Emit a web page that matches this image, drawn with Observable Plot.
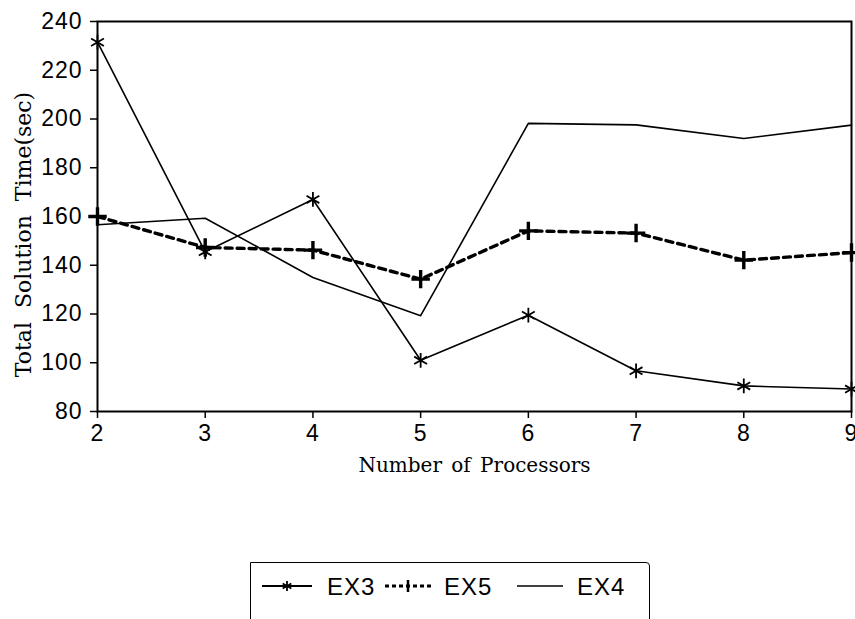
<!DOCTYPE html>
<html>
<head>
<meta charset="utf-8">
<script src="https://cdn.jsdelivr.net/npm/d3@7"></script>
<script src="https://cdn.jsdelivr.net/npm/@observablehq/plot@0.6"></script>
<style>
  html, body { margin: 0; padding: 0; background: #fff; }
  #wrap { position: relative; width: 855px; height: 619px; overflow: hidden; background: #fff; }
  #wrap svg.plot { position: absolute; left: 0; top: 0; }
  g[aria-label="x-axis tick label"] text, g[aria-label="y-axis tick label"] text {
    font-family: "Liberation Sans", Arial, sans-serif; font-size: 23px; letter-spacing: 1px; fill: #000;
  }
  g[aria-label="x-axis label"] text {
    font-family: "DejaVu Serif", serif; font-size: 20px; fill: #000; word-spacing: 3px;
  }
  g.ylab text {
    font-family: "DejaVu Serif", serif; font-size: 22px; fill: #000; word-spacing: 7px;
  }
  #legend {
    position: absolute; left: 250px; top: 562px; width: 400px; height: 80px;
    border: 1.5px solid #000; border-top-right-radius: 4px; box-sizing: border-box;
  }
  #legend text { font-family: "Liberation Sans", Arial, sans-serif; font-size: 24px; letter-spacing: 1px; fill: #000; }
</style>
</head>
<body>
<div id="wrap"></div>
<script>
// Data
const processors = [2, 3, 4, 5, 6, 7, 8, 9];
const ex3 = [231.5, 145.5, 167, 101, 119.5, 96.7, 90.5, 89.2];
const ex5 = [160, 147.3, 146.2, 134.3, 154.1, 153.2, 142.1, 145.2];
const ex4 = [156.6, 159.3, 135, 119.3, 198.2, 197.6, 192, 197.5];
const yTicks = [80, 100, 120, 140, 160, 180, 200, 220, 240];
const seriesNames = ["EX3", "EX5", "EX4"];
const xLabel = "Number of Processors";
const yLabel = "Total Solution Time(sec)";

const rows = (vals, name) => processors.map((p, i) => ({series: name, x: p, y: vals[i]}));
const d3rows = rows(ex3, "EX3");
const d5rows = rows(ex5, "EX5");
const d4rows = rows(ex4, "EX4");

const chart = Plot.plot({
  width: 855,
  height: 619,
  marginLeft: 97,
  marginRight: 4,
  marginTop: 21,
  marginBottom: 208,
  style: {background: "transparent", color: "#000", overflow: "visible"},
  x: {domain: [2, 9]},
  y: {domain: [80, 240]},
  marks: [
    Plot.axisX({ticks: processors, tickSize: 7, tickPadding: 6, tickFormat: d => String(d),
      label: xLabel, labelAnchor: "center", labelOffset: 60, labelArrow: "none", strokeWidth: 1.5}),
    Plot.axisY({ticks: yTicks, tickSize: 7, tickPadding: 8, tickFormat: d => String(d),
      label: null, strokeWidth: 1.5}),
    Plot.text([yLabel], {text: d => d, frameAnchor: "left", rotate: -90, dx: -74, dy: 18,
      textAnchor: "middle", lineAnchor: "middle", className: "ylab"}),
    Plot.line(d4rows, {x: "x", y: "y", stroke: "#000", strokeWidth: 1.6, curve: "linear"}),
    Plot.line(d5rows, {x: "x", y: "y", stroke: "#000", strokeWidth: 3.4, strokeDasharray: "7,5", curve: "linear"}),
    Plot.dot(d5rows, {x: "x", y: "y", symbol: "plus", r: 6, stroke: "#000", strokeWidth: 3.4}),
    Plot.line(d3rows, {x: "x", y: "y", stroke: "#000", strokeWidth: 1.6, curve: "linear"}),
    Plot.dot(d3rows, {x: "x", y: "y", symbol: "asterisk", r: 7, stroke: "#000", strokeWidth: 1.8}),
    Plot.frame({stroke: "#000", strokeWidth: 2})
  ]
});
chart.classList.add("plot");
document.getElementById("wrap").appendChild(chart);

// Legend (HTML box with small inline SVG samples)
const legend = document.createElement("div");
legend.id = "legend";
document.getElementById("wrap").appendChild(legend);
const lsvg = d3.select(legend).append("svg").attr("width", 400).attr("height", 60);
const cy = 23;
// EX3 sample
lsvg.append("line").attr("x1", 11).attr("x2", 61).attr("y1", cy).attr("y2", cy).attr("stroke", "#000").attr("stroke-width", 2);
lsvg.append("path").attr("transform", `translate(36,${cy})`).attr("d", d3.symbol(d3.symbolAsterisk, 70)()).attr("stroke", "#000").attr("stroke-width", 1.8).attr("fill", "none");
lsvg.append("text").attr("x", 76).attr("y", cy + 9).text(seriesNames[0]);
// EX5 sample
lsvg.append("line").attr("x1", 134).attr("x2", 180).attr("y1", cy).attr("y2", cy).attr("stroke", "#000").attr("stroke-width", 3).attr("stroke-dasharray", "4,3");
lsvg.append("line").attr("x1", 157).attr("x2", 157).attr("y1", cy - 6).attr("y2", cy + 6).attr("stroke", "#000").attr("stroke-width", 2.5);
lsvg.append("text").attr("x", 193).attr("y", cy + 9).text(seriesNames[1]);
// EX4 sample
lsvg.append("line").attr("x1", 266).attr("x2", 312).attr("y1", cy).attr("y2", cy).attr("stroke", "#000").attr("stroke-width", 1.5);
lsvg.append("text").attr("x", 326).attr("y", cy + 9).text(seriesNames[2]);
</script>
</body>
</html>
